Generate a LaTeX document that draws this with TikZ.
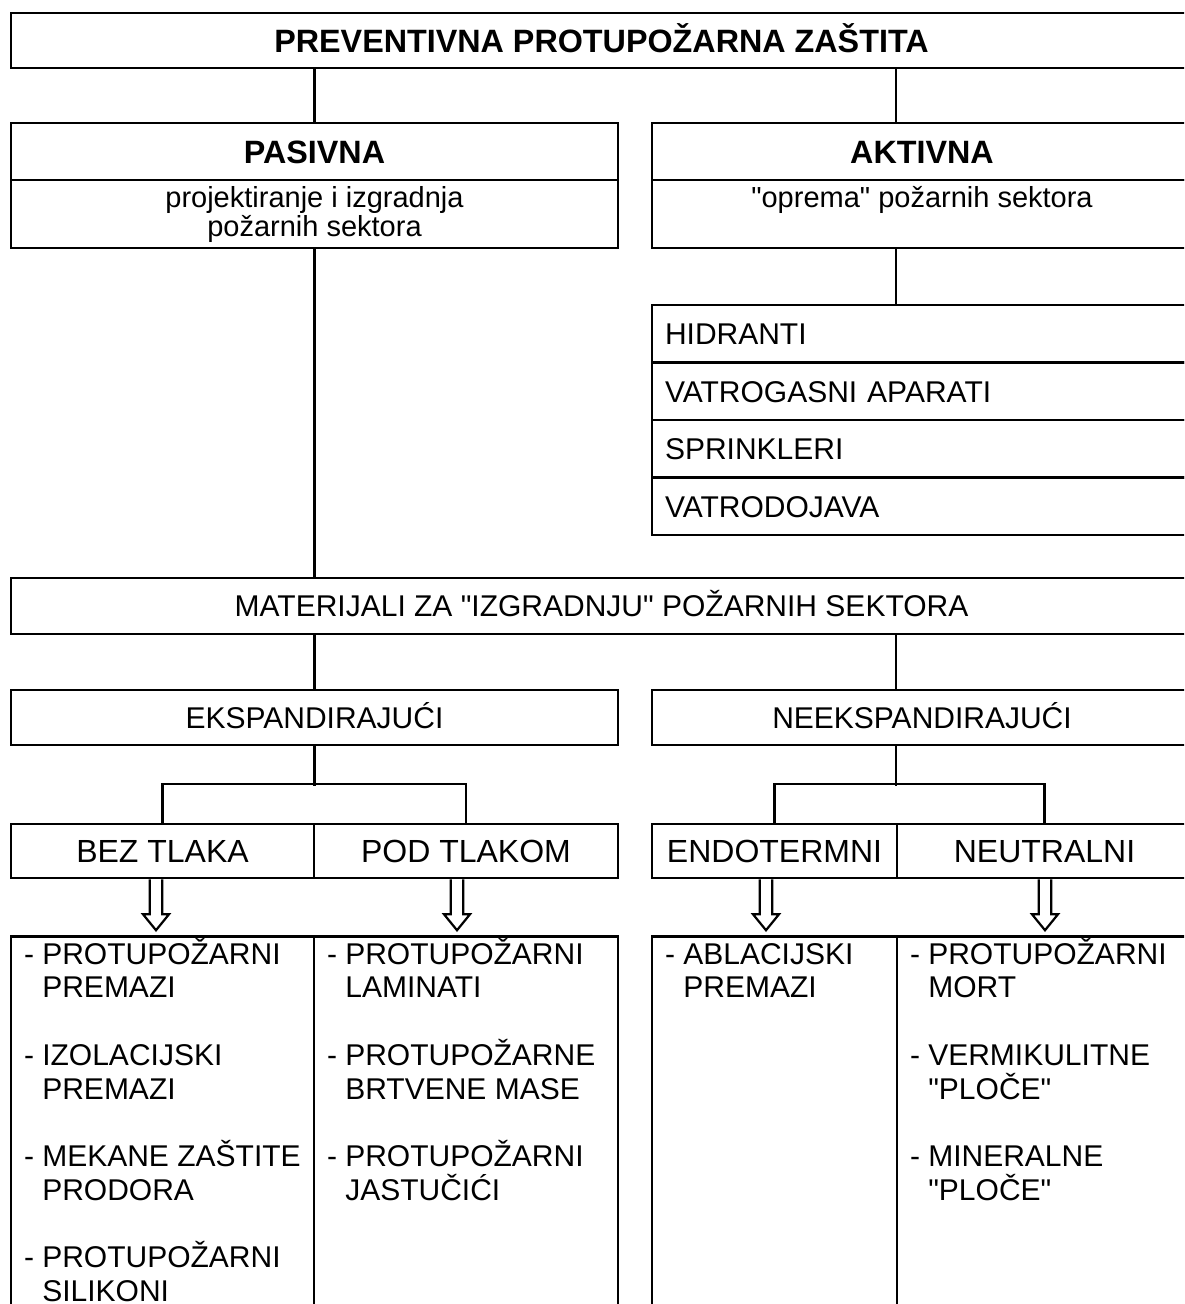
\documentclass[tikz,border=0pt]{standalone}
\usepackage{fontspec}
\setmainfont{Liberation Sans}[Ligatures=TeXOff]
\usetikzlibrary{calc}
\newcommand\pomakdesno{26}
\newcommand\razmak{33.7}
\newcommand\stavka[2]{- #1\\\phantom{- }#2}

\begin{document}
\begin{tikzpicture}[x=1pt, y=-1pt, line width=2.5pt]
	\tikzstyle{okvir}=[draw, inner sep=0pt, minimum height=55]
	\tikzstyle{naslov}=[font=\bfseries\fontsize{32.3}{36}\selectfont, text height=23, text depth=0]
	\tikzstyle{tekst}=[font=\fontsize{30}{34}\selectfont, text height=21.5, text depth=0]
	\tikzstyle{podtip}=[font=\fontsize{32}{36}\selectfont, text height=22.9, text depth=0]
	\tikzstyle{opis}=[anchor=base, inner sep=0pt, font=\fontsize{29}{28.5}\selectfont]
	\tikzstyle{oprema}=[font=\fontsize{30}{34}\selectfont, text height=21.5, text depth=0, text width=514, inner xsep=13, align=left, minimum height=57.5]
	\tikzstyle{stavke}=[anchor=base west, inner sep=0pt, font=\fontsize{30}{\razmak}\selectfont]
	\tikzstyle{strelica}=[line width=2.2pt, line join=miter]

	\useasboundingbox (0,0) rectangle (1184,1304);
	\clip (0,0) rectangle (1184,1304);

	%glavni naslov
	\node[okvir, naslov, minimum width=1181] (prev) at (601.5,40.5) {PREVENTIVNA PROTUPOŽARNA ZAŠTITA};

	%pasivna, aktivna
	\node[okvir, naslov, minimum width=607, minimum height=57] (pas) at (314.5,151.5) {PASIVNA};
	\node[okvir, minimum width=607, minimum height=68] (pasOpis) at (314.5,214) {};
	\node[opis] (pasTekst) at ([shift={(0,29)}]pasOpis.north) {\parbox[t]{500pt}{\centering projektiranje i izgradnja\\požarnih sektora}};

	\node[okvir, naslov, minimum width=540, minimum height=57] (akt) at (922,151.5) {AKTIVNA};
	\node[okvir, minimum width=540, minimum height=68] (aktOpis) at (922,214) {};
	\node[opis] (aktTekst) at ([shift={(0,29)}]aktOpis.north) {"oprema" požarnih sektora};

	\coordinate (aktGore) at ([shift={(-\pomakdesno,0)}]akt.north);
	\coordinate (aktDno) at ([shift={(-\pomakdesno,0)}]aktOpis.south);
	\draw (pas.north) -- (pas.north |- prev.south);
	\draw (aktGore) -- (aktGore |- prev.south);

	%oprema
	\foreach \t [count=\i] in {HIDRANTI, VATROGASNI APARATI, SPRINKLERI, VATRODOJAVA}
		\node[okvir, oprema] (oprema\i) at (922,{305+28.75+57.5*(\i-1)}) {\t};
	\draw (aktDno) -- (aktDno |- oprema1.north);

	%materijali
	\node[okvir, tekst, minimum width=1181, minimum height=56] (mat) at (601.5,606) {MATERIJALI ZA "IZGRADNJU" POŽARNIH SEKTORA};
	\draw (pasOpis.south) -- (pasOpis.south |- mat.north);

	\node[okvir, tekst, minimum width=607] (eks) at (314.5,717.5) {EKSPANDIRAJUĆI};
	\node[okvir, tekst, minimum width=540] (neeks) at (922,717.5) {NEEKSPANDIRAJUĆI};
	\coordinate (neeksGore) at ([shift={(-\pomakdesno,0)}]neeks.north);
	\coordinate (neeksDno) at ([shift={(-\pomakdesno,0)}]neeks.south);
	\draw (eks.north) -- (eks.north |- mat.south);
	\draw (neeksGore) -- (neeksGore |- mat.south);

	%podtipovi
	\node[okvir, podtip, minimum width=303, minimum height=54] (bez) at (162.5,851) {BEZ TLAKA};
	\node[okvir, podtip, minimum width=304, minimum height=54] (pod) at (466,851) {POD TLAKOM};
	\node[okvir, podtip, minimum width=245, minimum height=54] (endo) at (774.5,851) {ENDOTERMNI};
	\node[okvir, podtip, minimum width=295, minimum height=54] (neut) at (1044.5,851) {NEUTRALNI};

	\draw (eks.south) -- ++(0,40);
	\draw (bez.north) -- ++(0,-39) -| (pod.north);
	\draw (neeksDno) -- ++(0,40);
	\draw (endo.north) -- ++(0,-39) -| (neut.north);

	%liste
	\foreach \n/\w in {bez/303, pod/304, endo/245, neut/295}
		\node[okvir, minimum width=\w, minimum height=400, anchor=north] (\n Lista) at ([shift={(0,56)}]\n.south) {};

	\foreach \n/\dx in {bez/-6.5, pod/-9, endo/-8.5, neut/0.5}
		\draw[strelica] ([shift={(\dx-6.3,0)}]\n.south) -- ++(0,35) -- ++(-6.7,0) -- ++(13,16) -- ++(13,-16) -- ++(-6.7,0) -- ++(0,-35);

	\node[stavke] (bezTekst) at ([shift={(13,29)}]bezLista.north west) {\parbox[t]{285pt}{\raggedright
		\stavka{PROTUPOŽARNI}{PREMAZI}\\[\razmak pt]
		\stavka{IZOLACIJSKI}{PREMAZI}\\[\razmak pt]
		\stavka{MEKANE ZAŠTITE}{PRODORA}\\[\razmak pt]
		\stavka{PROTUPOŽARNI}{SILIKONI}}};
	\node[stavke] (podTekst) at ([shift={(13,29)}]podLista.north west) {\parbox[t]{285pt}{\raggedright
		\stavka{PROTUPOŽARNI}{LAMINATI}\\[\razmak pt]
		\stavka{PROTUPOŽARNE}{BRTVENE MASE}\\[\razmak pt]
		\stavka{PROTUPOŽARNI}{JASTUČIĆI}}};
	\node[stavke] (endoTekst) at ([shift={(13,29)}]endoLista.north west) {\parbox[t]{225pt}{\raggedright
		\stavka{ABLACIJSKI}{PREMAZI}}};
	\node[stavke] (neutTekst) at ([shift={(13,29)}]neutLista.north west) {\parbox[t]{275pt}{\raggedright
		\stavka{PROTUPOŽARNI}{MORT}\\[\razmak pt]
		\stavka{VERMIKULITNE}{"PLOČE"}\\[\razmak pt]
		\stavka{MINERALNE}{"PLOČE"}}};
\end{tikzpicture}
\end{document}
